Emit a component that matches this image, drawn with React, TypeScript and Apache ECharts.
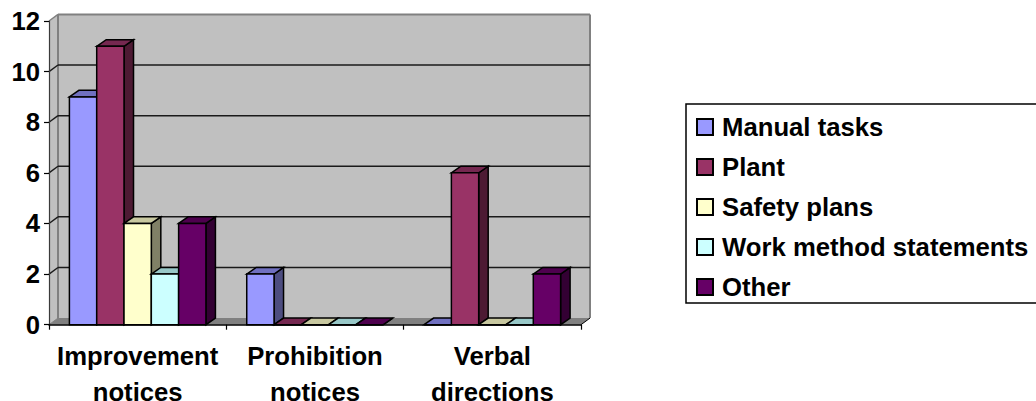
import React, { useEffect, useRef } from "react";
import * as echarts from "echarts";

const categories = ["Improvement\nnotices", "Prohibition\nnotices", "Verbal\ndirections"];
const yTicks = [0, 2, 4, 6, 8, 10, 12];
const manualTasks = [9, 2, 0];
const plant = [11, 0, 6];
const safetyPlans = [4, 0, 0];
const workMethod = [2, 0, 0];
const other = [4, 0, 2];
const seriesNames = ["Manual tasks", "Plant", "Safety plans", "Work method statements", "Other"];
const seriesValues = [manualTasks, plant, safetyPlans, workMethod, other];
const frontColors = ["#9999FF", "#993366", "#FFFFCC", "#CCFFFF", "#660066"];
const topColors = ["#7070C0", "#752850", "#C8C8A0", "#98C8C8", "#4E004E"];
const sideColors = ["#4D4D80", "#4D1A33", "#808066", "#668080", "#330033"];

const FONT = '"Liberation Sans", Arial, sans-serif';
const DX = 9;
const DY = 6.6;
const BAR_DX = 9.5;
const BAR_DY = 6.6;
const BAR_RATIO = 27.3 / 177.3;

function wallItem(params: any, api: any) {
  const v = api.value(1);
  const bandW = api.size([1, 0])[0];
  const left = api.coord([0, v])[0] - bandW / 2;
  const right = left + bandW * 3;
  const y = api.coord([0, v])[1];
  const children: any[] = [];
  if (params.dataIndex === 0) {
    const yTop = api.coord([0, 12])[1];
    const wallStyle = { fill: "#C0C0C0", stroke: "none" };
    const edge = { stroke: "#808080", lineWidth: 2 };
    children.push(
      { type: "polygon", shape: { points: [[left + DX, yTop - DY], [right + DX, yTop - DY], [right + DX, y - DY], [left + DX, y - DY]] }, style: wallStyle },
      { type: "polygon", shape: { points: [[left, yTop], [left + DX, yTop - DY], [left + DX, y - DY], [left, y]] }, style: wallStyle },
      { type: "polygon", shape: { points: [[left, y], [right, y], [right + DX, y - DY], [left + DX, y - DY]] }, style: { fill: "#808080", stroke: "none" } },
      { type: "line", shape: { x1: left + DX, y1: yTop - DY, x2: right + DX, y2: yTop - DY }, style: edge },
      { type: "line", shape: { x1: left + DX, y1: yTop - DY, x2: left + DX, y2: y - DY }, style: edge },
      { type: "line", shape: { x1: right + DX, y1: yTop - DY, x2: right + DX, y2: y - DY }, style: edge },
      { type: "line", shape: { x1: left, y1: yTop, x2: left + DX, y2: yTop - DY }, style: { stroke: "#808080", lineWidth: 1.5 } },
      { type: "line", shape: { x1: left, y1: y, x2: left + DX, y2: y - DY }, style: { stroke: "#808080", lineWidth: 1 } },
      { type: "line", shape: { x1: right, y1: y, x2: right + DX, y2: y - DY }, style: { stroke: "#000", lineWidth: 1 } },
    );
  } else if (v < 12) {
    children.push(
      { type: "line", shape: { x1: left, y1: y, x2: left + DX, y2: y - DY }, style: { stroke: "#1a1a1a", lineWidth: 1.4 } },
      { type: "line", shape: { x1: left + DX, y1: y - DY, x2: right + DX, y2: y - DY }, style: { stroke: "#1a1a1a", lineWidth: 1.5 } },
    );
  }
  return { type: "group", children };
}

function barItem(idx: number) {
  return (_params: any, api: any) => {
    const cat = api.value(0);
    const v = api.value(1);
    const bandW = api.size([1, 0])[0];
    const w = bandW * BAR_RATIO;
    const cx = api.coord([cat, 0])[0];
    const yBase = api.coord([cat, 0])[1];
    const yVal = api.coord([cat, v])[1];
    const x0 = cx + (idx - 2.5) * w;
    const x1 = x0 + w;
    const line = { stroke: "#000", lineWidth: 1.5, lineJoin: "miter" };
    return {
      type: "group",
      children: [
        { type: "polygon", shape: { points: [[x1, yVal], [x1 + BAR_DX, yVal - BAR_DY], [x1 + BAR_DX, yBase - BAR_DY], [x1, yBase]] }, style: { fill: sideColors[idx], ...line } },
        { type: "polygon", shape: { points: [[x0, yVal], [x0 + BAR_DX, yVal - BAR_DY], [x1 + BAR_DX, yVal - BAR_DY], [x1, yVal]] }, style: { fill: topColors[idx], ...line } },
        { type: "polygon", shape: { points: [[x0, yVal], [x1, yVal], [x1, yBase], [x0, yBase]] }, style: { fill: frontColors[idx], ...line } },
      ],
    };
  };
}

const labelText = { fontFamily: FONT, fontWeight: "bold", fontSize: 25.7, color: "#000" };

export default function App() {
  const ref = useRef<HTMLDivElement>(null);
  useEffect(() => {
    document.body.style.margin = "0";
    const chart = echarts.init(ref.current!, null, { renderer: "svg" });
    chart.setOption({
      animation: false,
      backgroundColor: "#fff",
      grid: { left: 49, right: 455, top: 21, height: 303.7, outerBoundsMode: "none" },
      xAxis: {
        type: "category",
        data: categories,
        z: 3,
        axisLine: { lineStyle: { color: "#000", width: 1.5 } },
        axisTick: { show: true, alignWithLabel: false, length: 5, lineStyle: { color: "#000", width: 1.2 } },
        axisLabel: {
          ...labelText,
          margin: 3,
          interval: 0,
          formatter: (value: string) => {
            const [first, second] = value.split("\n");
            return `{a|${first}}\n{b|${second}}`;
          },
          rich: {
            a: { ...labelText, lineHeight: 56 },
            b: { ...labelText, lineHeight: 16 },
          },
        },
      },
      yAxis: {
        type: "value",
        min: 0,
        max: 12,
        interval: 2,
        z: 3,
        splitLine: { show: false },
        axisLine: { show: true, lineStyle: { color: "#3a3a3a", width: 1.2 } },
        axisTick: { show: true, length: 5, lineStyle: { color: "#000", width: 1.2 } },
        axisLabel: { ...labelText, margin: 9 },
      },
      legend: {
        orient: "vertical",
        left: 686,
        top: 104,
        padding: [10, 30, 3, 10],
        itemGap: 14,
        itemWidth: 16,
        itemHeight: 16,
        icon: "rect",
        borderColor: "#000",
        borderWidth: 1.5,
        backgroundColor: "#fff",
        data: seriesNames,
        textStyle: { fontFamily: FONT, fontWeight: "bold", fontSize: 25.7, color: "#000", padding: [0, 0, 0, 4] },
      },
      series: [
        {
          type: "custom",
          name: "wall",
          z: 1,
          silent: true,
          renderItem: wallItem,
          encode: { x: 0, y: 1 },
          data: yTicks.map((t) => [0, t]),
        },
        ...seriesNames.map((name, i) => ({
          type: "custom",
          name,
          z: 2,
          renderItem: barItem(i),
          encode: { x: 0, y: 1 },
          itemStyle: { color: frontColors[i], borderColor: "#000", borderWidth: 1 },
          data: seriesValues[i].map((v, c) => [c, v]),
        })),
      ],
    });
    return () => chart.dispose();
  }, []);
  return <div ref={ref} style={{ width: 1036, height: 401 }} />;
}
